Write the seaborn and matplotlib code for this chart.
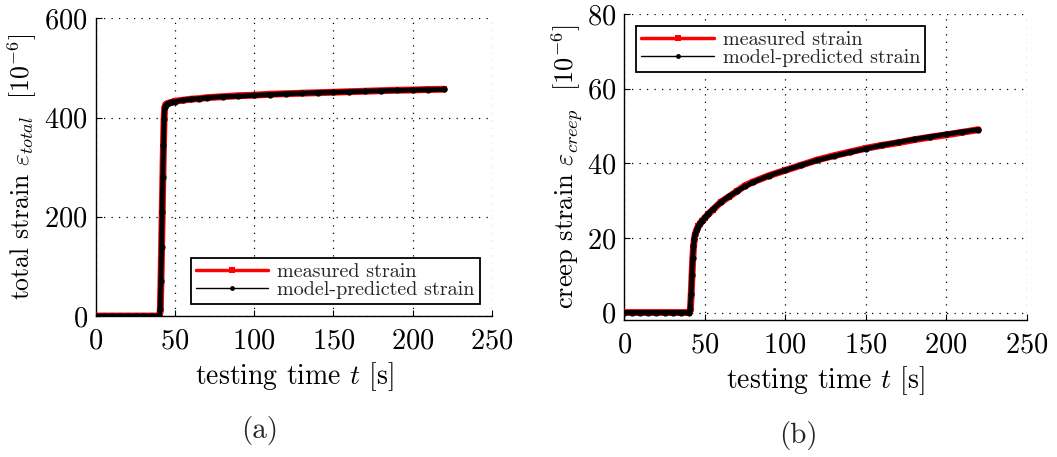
import numpy as np
import pandas as pd
import seaborn as sns
import matplotlib
matplotlib.use("Agg")
import matplotlib.pyplot as plt
from matplotlib.lines import Line2D

# ---------------- data ----------------
t_total = [0, 5, 10, 15, 20, 25, 30, 35, 40, 40.6, 41.0, 41.4, 41.8, 42.2, 42.6, 43.0,
           43.4, 44, 45, 46, 48, 50, 55, 60, 65, 70, 80, 90, 100, 110, 120, 130,
           140, 150, 160, 170, 180, 190, 200, 210, 220]
measured_total = [0, 0, 0, 0, 0, 0, 0, 0, 0, 10, 60, 130, 200, 270, 340, 395,
                  420, 426, 428, 429, 431, 433, 435, 437, 438, 440, 442, 444, 445, 447, 448, 449,
                  450, 451, 452, 453, 454, 455, 455.5, 456.5, 457]
model_total = [0, 0, 0, 0, 0, 0, 0, 0, 0, 15, 70, 140, 210, 280, 345, 398,
               421, 425, 427, 429, 431, 432, 435, 437, 438, 440, 442, 443, 445, 446, 448, 449,
               450, 451, 452, 453, 454, 454.5, 455.5, 456, 457]

t_creep = [0, 5, 10, 15, 20, 25, 30, 35, 40, 41, 41.5, 42, 42.5, 43, 43.5, 44, 45,
           46, 47, 48, 50, 52, 55, 60, 65, 70, 75, 80, 90, 100, 110, 120, 130, 140,
           150, 160, 170, 180, 190, 200, 210, 220]
measured_creep = [0, 0, 0, 0, 0, 0, 0, 0, 0, 0.5, 4, 9, 14, 17.5, 19.5, 20.8, 22.2,
                  23.1, 23.8, 24.4, 25.3, 26.3, 27.5, 29.6, 31, 32.5, 34, 35, 36.7, 38.1, 39.5, 40.9, 42, 43,
                  44, 44.8, 45.5, 46.3, 47, 47.6, 48.3, 49]
model_creep = [0, 0, 0, 0, 0, 0, 0, 0, 0, 1, 5, 10, 14.5, 17.8, 19.8, 21.0, 22.3,
               23.2, 23.9, 24.5, 25.5, 26.5, 27.7, 29.6, 31.1, 32.5, 33.8, 34.9, 36.7, 38.1, 39.5, 40.8, 41.9, 42.9,
               43.9, 44.8, 45.6, 46.4, 47.1, 47.8, 48.4, 49]

x_ticks = [0, 50, 100, 150, 200, 250]
y_ticks_total = [0, 200, 400, 600]
y_ticks_creep = [0, 20, 40, 60, 80]

# ---------------- style ----------------
sns.set_theme(style="white")
plt.rcParams["font.family"] = ["cmr10", "DejaVu Serif"]
plt.rcParams["mathtext.fontset"] = "cm"
plt.rcParams["axes.unicode_minus"] = False
plt.rcParams["axes.formatter.use_mathtext"] = True

fig = plt.figure(figsize=(10.57, 4.57), dpi=100)
ax1 = fig.add_axes([0.0908, 0.3085, 0.3744, 0.6515])
ax2 = fig.add_axes([0.5906, 0.2998, 0.3807, 0.6696])

def draw(ax, t, meas, model):
    df_m = pd.DataFrame({"t": t, "v": meas})
    df_p = pd.DataFrame({"t": t, "v": model})
    sns.lineplot(data=df_m, x="t", y="v", ax=ax, color="#ff0000", lw=5,
                 marker="s", markersize=5, markeredgewidth=0, estimator=None,
                 sort=False, zorder=3)
    sns.lineplot(data=df_p, x="t", y="v", ax=ax, color="black", lw=3.5,
                 marker="o", markersize=4.5, markeredgewidth=0, estimator=None,
                 sort=False, zorder=4)

draw(ax1, t_total, measured_total, model_total)
draw(ax2, t_creep, measured_creep, model_creep)

for ax, yt, ylim in [(ax1, y_ticks_total, (0, 600)), (ax2, y_ticks_creep, (-2, 80))]:
    ax.set_xlim(0, 250)
    ax.set_ylim(*ylim)
    ax.set_xticks(x_ticks)
    ax.set_yticks(yt)
    ax.grid(True, ls=(0, (1, 5)), color="black", lw=0.9)
    for s in ["top", "right"]:
        ax.spines[s].set_visible(False)
    for s in ["left", "bottom"]:
        ax.spines[s].set_color("black")
        ax.spines[s].set_linewidth(1.0)
    ax.tick_params(direction="in", length=4, width=0.8, colors="black",
                   labelsize=20.5, left=True, bottom=True)
    ax.tick_params(axis="x", pad=9)
    ax.tick_params(axis="y", pad=6)
    ax.set_xlabel("testing time $t$ [s]", fontsize=20, labelpad=4, color="black")
    ax.set_facecolor("white")

ax1.set_ylabel(r"total strain $\varepsilon_{total}$  [$10^{-6}$]", fontsize=18.5, color="black", labelpad=4)
ax2.set_ylabel(r"creep strain $\varepsilon_{creep}$  [$10^{-6}$]", fontsize=19, color="black", labelpad=1)

handles = [Line2D([], [], color="#ff0000", lw=2.5, marker="s", markersize=5, markeredgewidth=0),
           Line2D([], [], color="black", lw=1.0, marker="o", markersize=3.5, markeredgewidth=0)]
labels = ["measured strain", "model-predicted strain"]

for ax, loc in [(ax1, "lower right"), (ax2, "upper left")]:
    leg = ax.legend(handles, labels, loc=loc, fontsize=14.5, frameon=True, fancybox=False,
                    handlelength=3.6, handletextpad=0.45, borderpad=0.25, labelspacing=0.0,
                    borderaxespad=0.6)
    leg.get_frame().set_edgecolor("black")
    leg.get_frame().set_linewidth(1.3)
    leg.get_frame().set_alpha(1)

fig.text(0.2455, 0.057, "(a)", fontsize=21, ha="center", va="center")
fig.text(0.755, 0.047, "(b)", fontsize=21, ha="center", va="center")

fig.savefig("out.png", dpi=100, facecolor="white")
